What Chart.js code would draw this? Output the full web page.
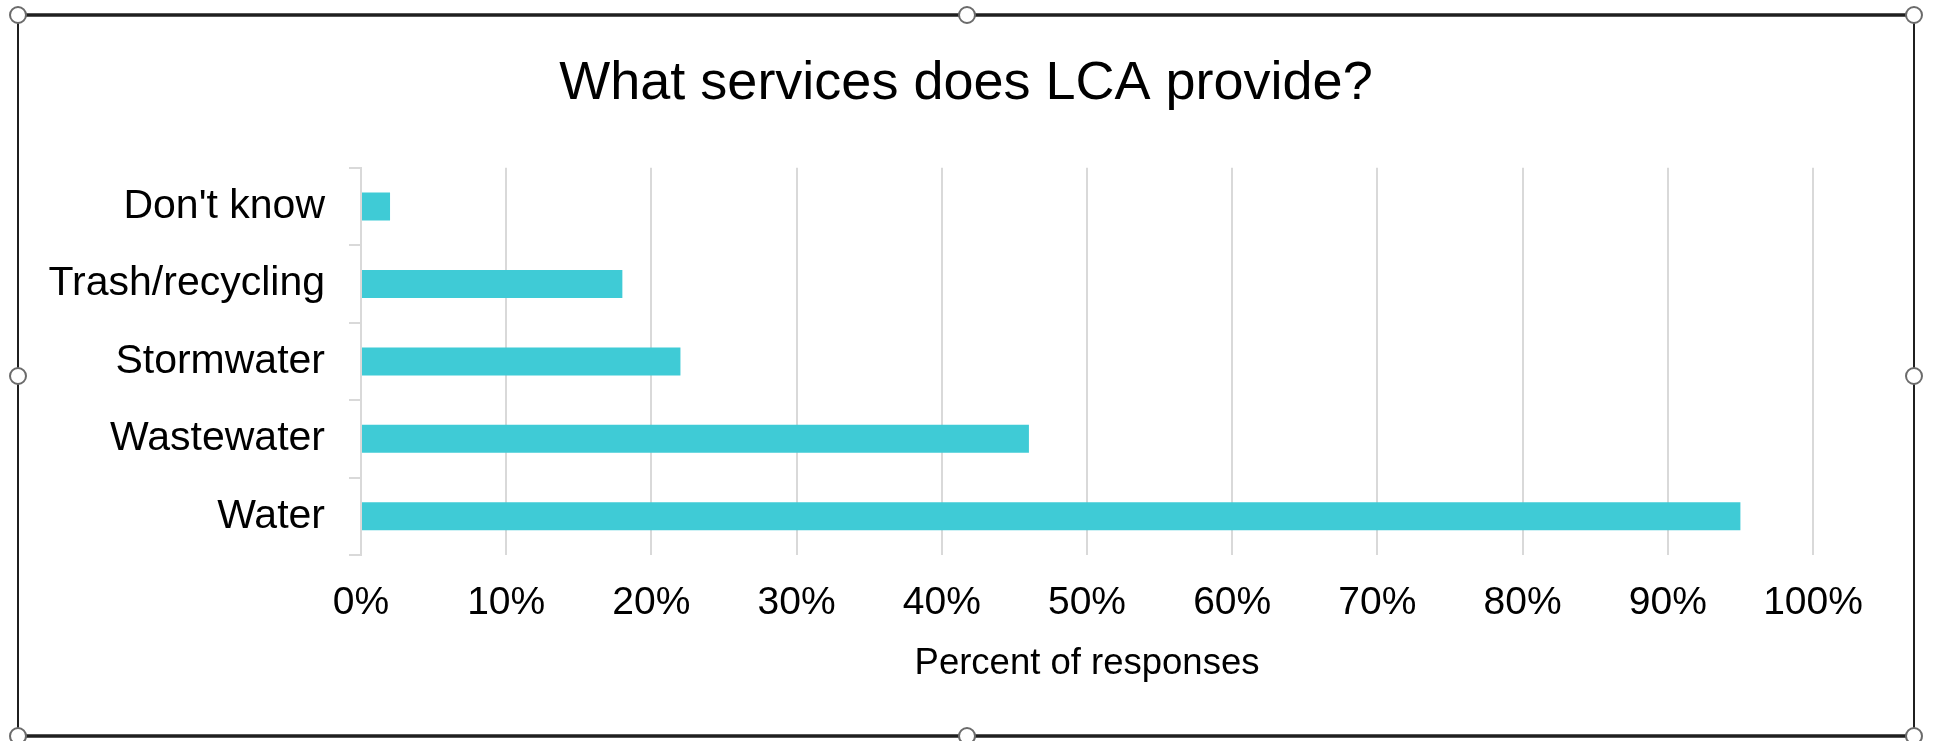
<!DOCTYPE html>
<html>
<head>
<meta charset="utf-8">
<title>What services does LCA provide?</title>
<script src="https://cdn.jsdelivr.net/npm/chart.js@4.4.1/dist/chart.umd.min.js"></script>
<style>
  html, body { margin: 0; padding: 0; background: #fff; }
  #wrap { width: 1939px; height: 741px; position: relative; }
</style>
</head>
<body>
<div id="wrap"><canvas id="servicesChart"></canvas></div>
<script>
const categories = ["Don't know", "Trash/recycling", "Stormwater", "Wastewater", "Water"];
const percentResponses = [2, 18, 22, 46, 95];
const xTickValues = [0, 10, 20, 30, 40, 50, 60, 70, 80, 90, 100];

const FONT = "'Liberation Sans', Arial, sans-serif";
const GRID = "#d9d9d9";

// selection frame + handles like the spreadsheet screenshot
const framePlugin = {
  id: "frame",
  afterDraw(chart) {
    const ctx = chart.ctx;
    const L = 18, R = 1914, T = 15, B = 736;
    ctx.save();
    ctx.strokeStyle = "#1f1f1f";
    ctx.lineWidth = 3.5;
    ctx.beginPath();
    ctx.moveTo(L, T); ctx.lineTo(R, T);
    ctx.moveTo(L, B); ctx.lineTo(R, B);
    ctx.stroke();
    ctx.lineWidth = 2;
    ctx.beginPath();
    ctx.moveTo(L, T); ctx.lineTo(L, B);
    ctx.moveTo(R, T); ctx.lineTo(R, B);
    ctx.stroke();
    const midX = 967, midY = 376;
    const handles = [[L, T], [midX, T], [R, T], [L, midY], [R, midY], [L, B], [midX, B], [R, B]];
    ctx.lineWidth = 2;
    ctx.strokeStyle = "#6b6b6b";
    ctx.fillStyle = "#fff";
    handles.forEach(([x, y]) => {
      ctx.beginPath();
      ctx.arc(x, y, 8, 0, Math.PI * 2);
      ctx.fill();
      ctx.stroke();
    });
    ctx.restore();
  }
};

const ctx = document.getElementById("servicesChart").getContext("2d");
new Chart(ctx, {
  type: "bar",
  data: {
    labels: categories,
    datasets: [{
      label: "Percent of responses",
      data: percentResponses,
      backgroundColor: "#3fcbd6",
      borderWidth: 0,
      barPercentage: 0.362,
      categoryPercentage: 1
    }]
  },
  options: {
    indexAxis: "y",
    responsive: true,
    maintainAspectRatio: false,
    animation: false,
    layout: { padding: { left: 20, right: 27, top: 0, bottom: 0 } },
    plugins: {
      legend: { display: false },
      tooltip: { enabled: false },
      title: {
        display: true,
        text: "What services does LCA provide?",
        color: "#000",
        font: { family: FONT, size: 54, weight: "normal", lineHeight: 1.2 },
        padding: { top: 52, bottom: 51 }
      }
    },
    scales: {
      x: {
        min: 0,
        max: 100,
        afterBuildTicks(scale) {
          scale.ticks = xTickValues.map(v => ({ value: v }));
        },
        grid: { color: GRID, lineWidth: 2, drawTicks: false },
        border: { display: false },
        ticks: {
          color: "#000",
          padding: 25,
          maxRotation: 0,
          autoSkip: false,
          font: { family: FONT, size: 39 },
          callback: v => v + "%"
        },
        title: {
          display: true,
          text: "Percent of responses",
          color: "#000",
          font: { family: FONT, size: 36.5, lineHeight: 1.2 },
          padding: { top: 0, bottom: 55 }
        },
        afterFit(scale) { scale.height = 186; }
      },
      y: {
        grid: { color: GRID, lineWidth: 2, drawOnChartArea: false, tickLength: 12, offset: true },
        border: { display: true, color: GRID, width: 2 },
        ticks: {
          color: "#000",
          padding: 24,
          font: { family: FONT, size: 41 }
        },
        afterFit(scale) { scale.width = 341; }
      },
      yRight: {
        type: "category",
        position: "right",
        display: true,
        grid: { display: false },
        border: { display: false },
        ticks: { display: false },
        afterFit(scale) { scale.width = 99; }
      }
    }
  },
  plugins: [framePlugin]
});
</script>
</body>
</html>
